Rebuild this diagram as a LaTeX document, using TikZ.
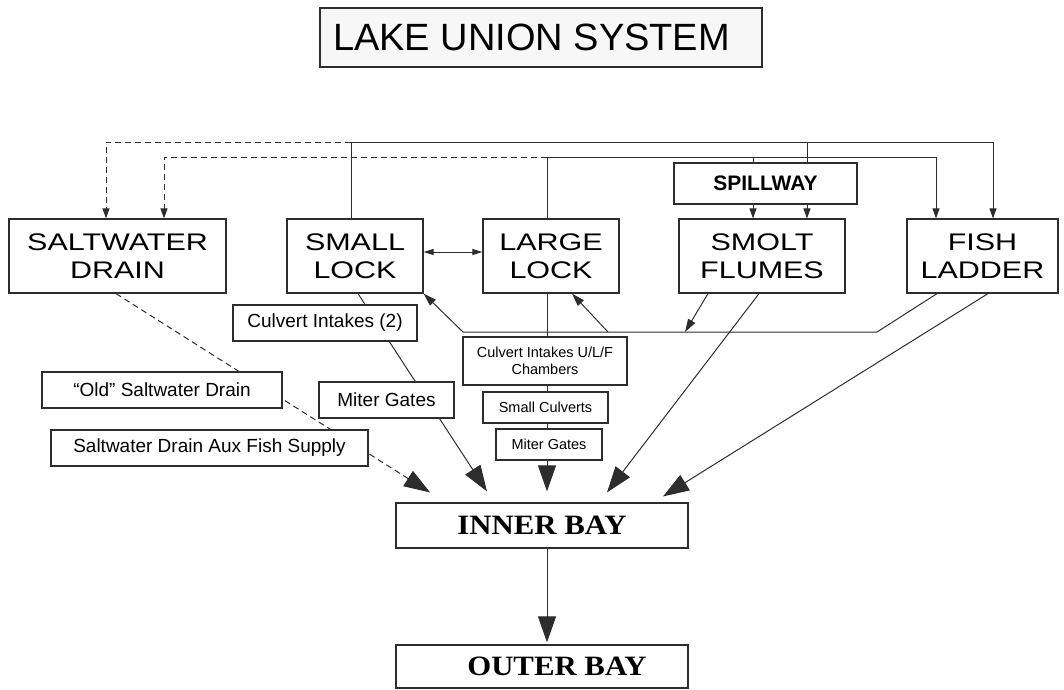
\documentclass[tikz,border=0pt]{standalone}
\usepackage{fontspec}
\setmainfont{Liberation Sans}
\newfontfamily\widefont[FakeStretch=1.27]{Liberation Sans}
\newfontfamily\bayfont[FakeStretch=1.1]{Liberation Serif}
\usetikzlibrary{arrows.meta,calc}
\pgfdeclarelayer{back}
\pgfsetlayers{back,main}
\definecolor{linegray}{RGB}{45,45,45}
\definecolor{titlefill}{RGB}{247,247,247}

\begin{document}
\begin{tikzpicture}[x=1pt, y=-1pt,
  box/.style={draw=linegray, fill=white, line width=1.2pt, inner sep=0pt, align=center},
  bigbox/.style={box, minimum height=74pt, font=\widefont\fontsize{24}{28}\selectfont},
  smallbox/.style={box, minimum height=36pt, font=\fontsize{19}{22}\selectfont},
  tinybox/.style={box, minimum height=31pt, font=\fontsize{14.5}{17}\selectfont},
  baybox/.style={box, minimum width=292pt, font=\bayfont\bfseries\fontsize{28}{32}\selectfont},
  link/.style={draw=linegray, line width=1pt},
  dashlink/.style={link, dash pattern=on 6pt off 4pt},
  tipS/.style={-{Triangle[length=10pt,width=7pt]}},
  tipM/.style={-{Triangle[length=13pt,width=8pt]}},
  tipL/.style={-{Triangle[length=26pt,width=18pt]}},
]
  \useasboundingbox (0,0) rectangle (1064,689);

  % Title
  \node[box, fill=titlefill, minimum width=442pt, minimum height=59pt,
        font=\fontsize{38}{44}\selectfont] (title) at (541,37.5) {LAKE UNION SYSTEM\hspace*{19pt}};

  % Main row
  \node[bigbox, minimum width=217pt] (swd) at (117.5,256) {SALTWATER\\DRAIN};
  \node[bigbox, minimum width=136pt] (slock) at (355,256) {SMALL\\LOCK};
  \node[bigbox, minimum width=136pt] (llock) at (551,256) {LARGE\\LOCK};
  \node[bigbox, minimum width=166pt] (flumes) at (762,256) {SMOLT\\FLUMES};
  \node[bigbox, minimum width=151pt] (ladder) at (982.5,256) {FISH\\LADDER};
  \node[box, minimum width=183pt, minimum height=41pt,
        font=\bfseries\fontsize{21}{24}\selectfont] (spill) at (765.5,183.5) {SPILLWAY};

  % Outlet labels
  \node[smallbox, minimum width=184pt] (cult2) at (325,323) {Culvert Intakes (2)};
  \node[smallbox, minimum width=240pt] (oldswd) at (162,390) {``Old'' Saltwater Drain};
  \node[smallbox, minimum width=135pt] (miterS) at (386.5,400) {Miter Gates};
  \node[smallbox, minimum width=317pt] (aux) at (209.5,448) {Saltwater Drain Aux Fish Supply};
  \node[tinybox, minimum width=164pt, minimum height=48pt] (chamb) at (545,361) {Culvert Intakes U/L/F\\Chambers};
  \node[tinybox, minimum width=125pt] (smcul) at (545.5,407.5) {Small Culverts};
  \node[tinybox, minimum width=106pt] (miterL) at (549,444.5) {Miter Gates};

  % Bays
  \node[baybox, minimum height=45pt] (inner) at (542,525.5) {INNER BAY};
  \node[baybox, minimum height=43pt] (outer) at (542,666.5) {\hspace*{30pt}OUTER BAY};

  \begin{pgfonlayer}{back}
    % Feed lines over the top
    \coordinate (topA) at (351,142);
    \coordinate (topB) at (547,157);
    \draw[link] ([xshift=-4pt]slock.north) -- (topA);
    \draw[link, tipS] (topA) -| ([xshift=10.5pt]ladder.north);
    \draw[dashlink, tipS] (topA) -| ([xshift=-11.5pt]swd.north);
    \draw[link] ([xshift=-4pt]llock.north) -- (topB);
    \draw[link, tipS] (topB) -| ([xshift=-46.5pt]ladder.north);
    \draw[dashlink, tipS] (topB) -| ([xshift=46.5pt]swd.north);
    \draw[link] ([xshift=-12.5pt]spill.north) -- ([xshift=-12.5pt]spill.north |- topB);
    \draw[link] ([xshift=41.5pt]spill.north) -- ([xshift=41.5pt]spill.north |- topA);
    \foreach \dx in {-12.5,41.5}
      \draw[link, tipS] ([xshift=\dx pt]spill.south) -- ([xshift=\dx pt]spill.south |- flumes.north);

    % Between the locks
    \draw[link, {Triangle[length=10pt,width=6pt]}-{Triangle[length=10pt,width=6pt]}]
      ([yshift=4pt]slock.east) -- ([yshift=4pt]llock.west);

    % Return line under the main row
    \coordinate (retR) at (877,332);
    \coordinate (retM) at (608,332);
    \coordinate (retF) at (685,332);
    \coordinate (retL) at (463,332);
    \draw[link, tipM] ([xshift=-45.5pt]ladder.south) -- (retR) -- (retL) -- (slock.south east);
    \draw[link, tipM] (retM) -- ([xshift=21pt]llock.south);
    \draw[link, tipM] ([xshift=-54pt]flumes.south) -- (retF);

    % Into the inner bay
    \draw[dashlink, tipL] ([xshift=-1.5pt]swd.south) -- ([shift={(-112pt,10pt)}]inner.north);
    \draw[link, tipL] ([xshift=3pt]slock.south) -- ([shift={(-55pt,11pt)}]inner.north);
    \draw[link, tipL] ([xshift=-4pt]llock.south) -- ([shift={(5pt,11pt)}]inner.north);
    \draw[link, tipL] ([xshift=-3pt]flumes.south) -- ([shift={(65pt,10pt)}]inner.north);
    \draw[link, tipL] ([xshift=5.5pt]ladder.south) -- ([shift={(121pt,6pt)}]inner.north);
    \draw[link, tipL] ([xshift=5pt]inner.south) -- ([shift={(5pt,2pt)}]outer.north);
  \end{pgfonlayer}
\end{tikzpicture}
\end{document}
